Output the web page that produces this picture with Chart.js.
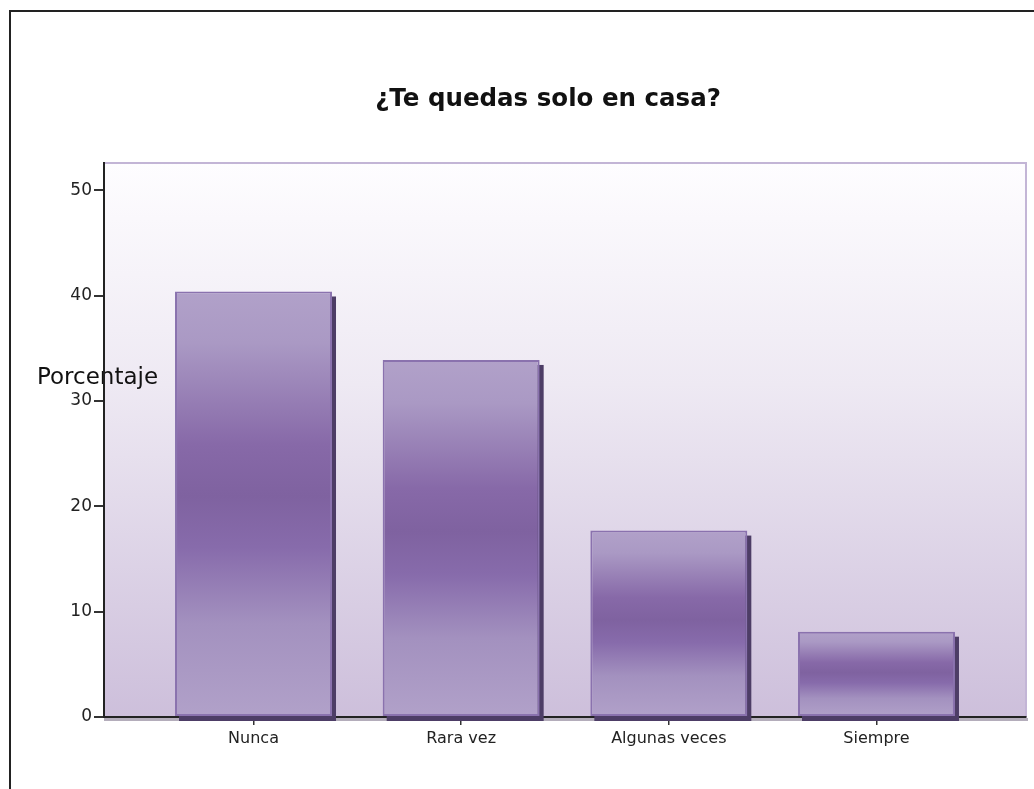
<!DOCTYPE html>
<html>
<head>
<meta charset="utf-8">
<script src="https://cdn.jsdelivr.net/npm/chart.js@4"></script>
<style>
  html, body { margin: 0; padding: 0; background: #fff; }
</style>
</head>
<body>
<canvas id="chart" width="1034" height="789"></canvas>
<script>
const categories = ["Nunca", "Rara vez", "Algunas veces", "Siempre"];
const percentages = [40.4, 33.9, 17.7, 8.1];
const yTickValues = [0, 10, 20, 30, 40, 50];
const chartTitle = "¿Te quedas solo en casa?";
const yAxisLabel = "Porcentaje";

const FONT = "'DejaVu Sans', 'Liberation Sans', Arial, sans-serif";

// light at both ends of the bar, dark band through the middle
function barGradient(context) {
  const chart = context.chart;
  const yScale = chart.scales.y;
  const i = context.dataIndex;
  if (!yScale || i === undefined) return "#9880b8";
  const top = yScale.getPixelForValue(percentages[i]);
  const bottom = yScale.getPixelForValue(0);
  if (!isFinite(top) || !isFinite(bottom) || top === bottom) return "#9880b8";
  const g = chart.ctx.createLinearGradient(0, top, 0, bottom);
  g.addColorStop(0, "#b1a1c9");
  g.addColorStop(0.12, "#aa99c4");
  g.addColorStop(0.36, "#8769a8");
  g.addColorStop(0.48, "#7f62a0");
  g.addColorStop(0.6, "#876bab");
  g.addColorStop(0.78, "#a391bf");
  g.addColorStop(1, "#b1a1c9");
  return g;
}

const decor = {
  id: "decor",
  beforeDraw(chart) {
    const { ctx, chartArea: a } = chart;
    ctx.save();
    // frame of the output window
    ctx.strokeStyle = "#222";
    ctx.lineWidth = 2;
    ctx.beginPath();
    ctx.moveTo(10, 789);
    ctx.lineTo(10, 11);
    ctx.lineTo(1034, 11);
    ctx.stroke();

    // plot background
    const g = ctx.createLinearGradient(0, a.top, 0, a.bottom);
    g.addColorStop(0, "#fefdff");
    g.addColorStop(0.4, "#eee9f3");
    g.addColorStop(1, "#cdbfdb");
    ctx.fillStyle = g;
    ctx.fillRect(a.left, a.top, a.right - a.left, a.bottom - a.top);
    ctx.strokeStyle = "#c3b5d6";
    ctx.lineWidth = 2;
    ctx.beginPath();
    ctx.moveTo(a.left, a.top);
    ctx.lineTo(a.right, a.top);
    ctx.lineTo(a.right, a.bottom);
    ctx.stroke();

    // grey shadow under the x axis
    ctx.fillStyle = "#b4adbb";
    ctx.fillRect(a.left, a.bottom + 1, a.right - a.left + 2, 3);

    // y axis label, horizontal, sits under the axis line
    ctx.font = "23px " + FONT;
    ctx.fillStyle = "#111";
    ctx.textBaseline = "alphabetic";
    ctx.fillText(yAxisLabel, 37, 384);
    ctx.restore();
  },
  beforeDatasetsDraw(chart) {
    const { ctx } = chart;
    ctx.save();
    ctx.fillStyle = "#4d3d66";
    chart.getDatasetMeta(0).data.forEach((bar) => {
      const w = bar.width;
      ctx.fillRect(bar.x - w / 2 + 4, bar.y + 5, w, bar.base - bar.y);
    });
    ctx.restore();
  },
};

new Chart(document.getElementById("chart"), {
  type: "bar",
  data: {
    datasets: [
      {
        data: percentages.map((v, i) => ({ x: i, y: v })),
        backgroundColor: barGradient,
        borderColor: "#8a72ae",
        borderWidth: 2,
        borderSkipped: false,
        barPercentage: 0.756,
        categoryPercentage: 1,
      },
    ],
  },
  options: {
    responsive: false,
    animation: false,
    layout: { padding: { top: 0, right: 8, bottom: 0, left: 70 } },
    plugins: {
      legend: { display: false },
      tooltip: { enabled: false },
      title: {
        display: true,
        text: chartTitle,
        color: "#111",
        font: { family: FONT, size: 24.5, weight: "bold" },
        padding: { top: 85, bottom: 48.6 },
      },
    },
    scales: {
      x: {
        type: "linear",
        min: -0.72,
        max: 3.72,
        offset: false,
        afterBuildTicks: (s) => {
          s.ticks = categories.map((c, i) => ({ value: i }));
        },
        afterFit: (s) => {
          s.height = 72;
        },
        ticks: {
          callback: (v) => categories[v],
          color: "#222",
          font: { family: FONT, size: 16 },
          padding: 4,
          autoSkip: false,
          maxRotation: 0,
        },
        grid: { offset: false, drawOnChartArea: false, tickLength: 8, color: "#333", lineWidth: 1.5 },
        border: { display: true, color: "#222", width: 2 },
      },
      y: {
        min: 0,
        max: 52.6,
        afterBuildTicks: (s) => {
          s.ticks = yTickValues.map((v) => ({ value: v }));
        },
        afterFit: (s) => {
          s.width = 34;
        },
        ticks: {
          color: "#222",
          font: { family: FONT, size: 17 },
          padding: 2,
        },
        grid: { drawOnChartArea: false, tickLength: 10, color: "#333", lineWidth: 2 },
        border: { display: true, color: "#222", width: 2 },
      },
    },
  },
  plugins: [decor],
});
</script>
</body>
</html>
